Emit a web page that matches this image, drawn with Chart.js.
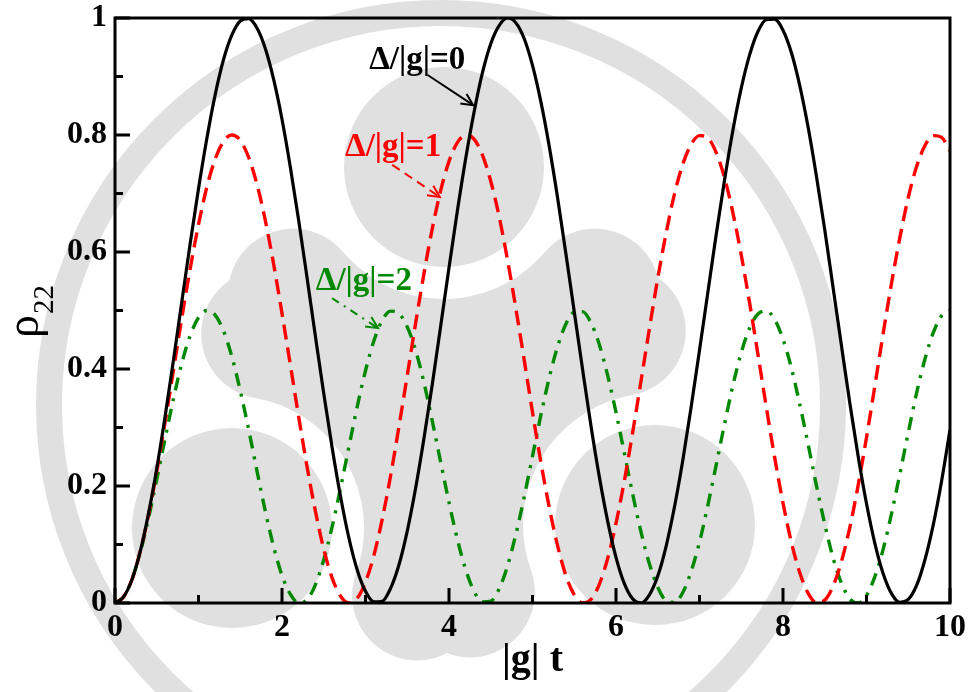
<!DOCTYPE html>
<html>
<head>
<meta charset="utf-8">
<title>Rabi oscillations</title>
<script src="https://cdn.jsdelivr.net/npm/chart.js@4.4.1/dist/chart.umd.min.js"></script>
<style>
html, body { margin: 0; padding: 0; background: #fff; }
canvas { display: block; }
</style>
</head>
<body>
<canvas id="rabi" width="971" height="692"></canvas>
<script>
// |g| t sampling grid
var times = [
    0.0, 0.1, 0.2, 0.3, 0.4, 0.5, 0.6, 0.7, 0.8, 0.9,
    1.0, 1.1, 1.2, 1.3, 1.4, 1.5, 1.6, 1.7, 1.8, 1.9,
    2.0, 2.1, 2.2, 2.3, 2.4, 2.5, 2.6, 2.7, 2.8, 2.9,
    3.0, 3.1, 3.2, 3.3, 3.4, 3.5, 3.6, 3.7, 3.8, 3.9,
    4.0, 4.1, 4.2, 4.3, 4.4, 4.5, 4.6, 4.7, 4.8, 4.9,
    5.0, 5.1, 5.2, 5.3, 5.4, 5.5, 5.6, 5.7, 5.8, 5.9,
    6.0, 6.1, 6.2, 6.3, 6.4, 6.5, 6.6, 6.7, 6.8, 6.9,
    7.0, 7.1, 7.2, 7.3, 7.4, 7.5, 7.6, 7.7, 7.8, 7.9,
    8.0, 8.1, 8.2, 8.3, 8.4, 8.5, 8.6, 8.7, 8.8, 8.9,
    9.0, 9.1, 9.2, 9.3, 9.4, 9.5, 9.6, 9.7, 9.8, 9.9,
    10.0
];

// rho_22 for Delta/|g| = 0
var rhoDelta0 = [
    0.000, 0.010, 0.039, 0.087, 0.152, 0.230, 0.319, 0.415, 0.515, 0.614,
    0.708, 0.794, 0.869, 0.929, 0.971, 0.995, 0.999, 0.983, 0.948, 0.895,
    0.827, 0.745, 0.654, 0.556, 0.456, 0.358, 0.266, 0.183, 0.112, 0.057,
    0.020, 0.002, 0.003, 0.025, 0.065, 0.123, 0.196, 0.281, 0.374, 0.473,
    0.573, 0.670, 0.760, 0.839, 0.906, 0.956, 0.987, 1.000, 0.992, 0.965,
    0.919, 0.857, 0.781, 0.693, 0.597, 0.498, 0.399, 0.303, 0.216, 0.140,
    0.078, 0.033, 0.007, 0.000, 0.014, 0.046, 0.097, 0.164, 0.244, 0.335,
    0.432, 0.531, 0.630, 0.723, 0.808, 0.880, 0.937, 0.977, 0.997, 0.998,
    0.979, 0.941, 0.885, 0.814, 0.730, 0.638, 0.539, 0.440, 0.342, 0.251,
    0.170, 0.102, 0.050, 0.016, 0.001, 0.006, 0.030, 0.074, 0.134, 0.209,
    0.296
];

// rho_22 for Delta/|g| = 1
var rhoDelta1 = [
    0.000, 0.010, 0.039, 0.087, 0.150, 0.225, 0.309, 0.398, 0.487, 0.571,
    0.647, 0.711, 0.759, 0.789, 0.800, 0.791, 0.762, 0.716, 0.654, 0.579,
    0.495, 0.407, 0.318, 0.233, 0.157, 0.092, 0.043, 0.012, 0.000, 0.008,
    0.036, 0.081, 0.143, 0.217, 0.301, 0.389, 0.478, 0.563, 0.640, 0.705,
    0.755, 0.787, 0.800, 0.793, 0.766, 0.721, 0.661, 0.587, 0.504, 0.416,
    0.326, 0.241, 0.164, 0.098, 0.047, 0.014, 0.000, 0.006, 0.032, 0.076,
    0.136, 0.209, 0.292, 0.380, 0.469, 0.555, 0.632, 0.699, 0.750, 0.784,
    0.799, 0.795, 0.770, 0.727, 0.667, 0.595, 0.513, 0.425, 0.335, 0.249,
    0.171, 0.104, 0.052, 0.017, 0.001, 0.005, 0.029, 0.071, 0.129, 0.201,
    0.283, 0.371, 0.461, 0.547, 0.625, 0.693, 0.746, 0.782, 0.799, 0.796,
    0.773
];

// rho_22 for Delta/|g| = 2
var rhoDelta2 = [
    0.000, 0.010, 0.039, 0.085, 0.144, 0.211, 0.281, 0.349, 0.410, 0.457,
    0.488, 0.500, 0.492, 0.465, 0.421, 0.363, 0.297, 0.226, 0.157, 0.096,
    0.047, 0.015, 0.000, 0.006, 0.031, 0.074, 0.130, 0.196, 0.266, 0.335,
    0.397, 0.448, 0.483, 0.499, 0.495, 0.472, 0.432, 0.377, 0.311, 0.241,
    0.172, 0.109, 0.057, 0.020, 0.002, 0.003, 0.024, 0.063, 0.117, 0.181,
    0.251, 0.321, 0.385, 0.438, 0.477, 0.497, 0.498, 0.479, 0.442, 0.389,
    0.326, 0.256, 0.186, 0.121, 0.067, 0.027, 0.004, 0.001, 0.018, 0.054,
    0.104, 0.167, 0.236, 0.306, 0.372, 0.428, 0.470, 0.494, 0.499, 0.485,
    0.451, 0.402, 0.340, 0.272, 0.201, 0.135, 0.077, 0.034, 0.007, 0.000,
    0.013, 0.045, 0.092, 0.153, 0.221, 0.291, 0.359, 0.417, 0.462, 0.491,
    0.500
];

var curveLabels = ['\u0394/|g|=0', '\u0394/|g|=1', '\u0394/|g|=2'];
var xTitle = '|g| t';

var serif = '"Liberation Serif", "Times New Roman", Times, serif';
var black = '#000000', red = '#ff0000', green = '#008800';

function series(values) {
    return values.map(function(v, i) {
        return { x: times[i], y: v };
    });
}

// light institute seal behind the plot: outer ring, three discs with crescents
var seal = {
    id: 'seal',
    beforeDraw: function(chart) {
        var ctx = chart.ctx;
        ctx.save();
        ctx.fillStyle = '#ffffff';
        ctx.fillRect(0, 0, chart.width, chart.height);
        ctx.fillStyle = '#e0e0e0';
        ctx.strokeStyle = '#e0e0e0';
        ctx.lineWidth = 26;
        ctx.beginPath();
        ctx.arc(441, 405, 392, 0, 2 * Math.PI);
        ctx.stroke();
        ctx.lineWidth = 130;
        ctx.lineCap = 'round';
        [[444, 167, 40], [655, 525, 160], [232, 528, 280]].forEach(function(b) {
            ctx.beginPath();
            ctx.arc(b[0], b[1], 100, 0, 2 * Math.PI);
            ctx.fill();
            ctx.beginPath();
            ctx.arc(b[0], b[1], 197, b[2] * Math.PI / 180, (b[2] + 100) * Math.PI / 180);
            ctx.stroke();
        });
        ctx.restore();
    }
};

function arrow(ctx, x0, y0, x1, y1, dash) {
    ctx.setLineDash(dash);
    ctx.beginPath();
    ctx.moveTo(x0, y0);
    ctx.lineTo(x1, y1);
    ctx.stroke();
    ctx.setLineDash([]);
    var ang = Math.atan2(y1 - y0, x1 - x0);
    ctx.beginPath();
    ctx.moveTo(x1 - 13 * Math.cos(ang - 0.45), y1 - 13 * Math.sin(ang - 0.45));
    ctx.lineTo(x1, y1);
    ctx.lineTo(x1 - 13 * Math.cos(ang + 0.45), y1 - 13 * Math.sin(ang + 0.45));
    ctx.stroke();
}

// curve labels with arrows, placed in data coordinates
var notes = {
    id: 'notes',
    afterDatasetsDraw: function(chart) {
        var ctx = chart.ctx, sx = chart.scales.x, sy = chart.scales.y;
        var items = [
            { text: curveLabels[0], color: black, at: [3.62, 0.928], from: [3.74, 0.903], to: [4.29, 0.851], dash: [] },
            { text: curveLabels[1], color: red, at: [3.33, 0.779], from: [3.32, 0.749], to: [3.89, 0.694], dash: [9, 6] },
            { text: curveLabels[2], color: green, at: [2.98, 0.549], from: [2.60, 0.521], to: [3.15, 0.470], dash: [8, 6, 2, 6] }
        ];
        ctx.save();
        ctx.font = 'bold 33px ' + serif;
        ctx.textAlign = 'center';
        ctx.textBaseline = 'middle';
        ctx.lineWidth = 2;
        items.forEach(function(it) {
            ctx.fillStyle = it.color;
            ctx.strokeStyle = it.color;
            ctx.fillText(it.text, sx.getPixelForValue(it.at[0]), sy.getPixelForValue(it.at[1]));
            arrow(ctx, sx.getPixelForValue(it.from[0]), sy.getPixelForValue(it.from[1]),
                sx.getPixelForValue(it.to[0]), sy.getPixelForValue(it.to[1]), it.dash);
        });
        ctx.restore();
    }
};

// closed frame, inward ticks and axis titles
var frame = {
    id: 'frame',
    afterDraw: function(chart) {
        var ctx = chart.ctx, a = chart.chartArea, sx = chart.scales.x, sy = chart.scales.y;
        ctx.save();
        ctx.strokeStyle = black;
        ctx.lineWidth = 3;
        ctx.beginPath();
        sx.ticks.forEach(function(t, i) {
            var px = sx.getPixelForValue(t.value);
            ctx.moveTo(px, a.bottom);
            ctx.lineTo(px, a.bottom - 15);
            if (i < sx.ticks.length - 1) {
                var mx = sx.getPixelForValue((t.value + sx.ticks[i + 1].value) / 2);
                ctx.moveTo(mx, a.bottom);
                ctx.lineTo(mx, a.bottom - 8);
            }
        });
        sy.ticks.forEach(function(t, i) {
            var py = sy.getPixelForValue(t.value);
            ctx.moveTo(a.left, py);
            ctx.lineTo(a.left + 15, py);
            if (i < sy.ticks.length - 1) {
                var my = sy.getPixelForValue((t.value + sy.ticks[i + 1].value) / 2);
                ctx.moveTo(a.left, my);
                ctx.lineTo(a.left + 8, my);
            }
        });
        ctx.stroke();
        ctx.strokeRect(a.left, a.top, a.right - a.left, a.bottom - a.top);

        ctx.fillStyle = black;
        ctx.font = 'bold 40px ' + serif;
        ctx.textAlign = 'center';
        ctx.textBaseline = 'middle';
        ctx.fillText(xTitle, (a.left + a.right) / 2, 661);

        ctx.translate(38, 338);
        ctx.rotate(-Math.PI / 2);
        ctx.textAlign = 'left';
        ctx.textBaseline = 'alphabetic';
        ctx.font = '46px ' + serif;
        ctx.fillText('\u03c1', 0, 0);
        var w = ctx.measureText('\u03c1').width;
        ctx.font = '29px ' + serif;
        ctx.fillText('22', w + 1, 15);
        ctx.restore();
    }
};

new Chart(document.getElementById('rabi').getContext('2d'), {
    type: 'line',
    data: {
        datasets: [{
            label: curveLabels[0],
            data: series(rhoDelta0),
            borderColor: black,
            borderWidth: 3.2
        }, {
            label: curveLabels[1],
            data: series(rhoDelta1),
            borderColor: red,
            borderWidth: 3.4,
            borderDash: [15, 8]
        }, {
            label: curveLabels[2],
            data: series(rhoDelta2),
            borderColor: green,
            borderWidth: 3.4,
            borderDash: [13, 8, 3, 8]
        }]
    },
    options: {
        responsive: false,
        animation: false,
        devicePixelRatio: 1,
        elements: {
            point: { radius: 0 },
            line: { cubicInterpolationMode: 'monotone', fill: false }
        },
        layout: { padding: { top: 18, right: 21, left: 0, bottom: 0 } },
        plugins: {
            legend: { display: false },
            tooltip: { enabled: false }
        },
        scales: {
            x: {
                type: 'linear',
                min: 0,
                max: 10,
                grid: { display: false, drawTicks: false },
                border: { display: false },
                ticks: {
                    stepSize: 2,
                    padding: 6,
                    maxRotation: 0,
                    color: black,
                    font: { family: serif, size: 32, weight: 'bold' },
                    callback: function(v) { return String(v); }
                },
                afterFit: function(scale) {
                    scale.height = 89;
                    scale.paddingLeft = 0;
                    scale.paddingRight = 0;
                }
            },
            y: {
                type: 'linear',
                min: 0,
                max: 1,
                grid: { display: false, drawTicks: false },
                border: { display: false },
                ticks: {
                    stepSize: 0.2,
                    padding: 8,
                    color: black,
                    font: { family: serif, size: 32, weight: 'bold' },
                    callback: function(v) { return String(Math.round(v * 10) / 10); }
                },
                afterFit: function(scale) {
                    scale.width = 115;
                    scale.paddingTop = 0;
                    scale.paddingBottom = 0;
                }
            }
        }
    },
    plugins: [seal, notes, frame]
});
</script>
</body>
</html>
